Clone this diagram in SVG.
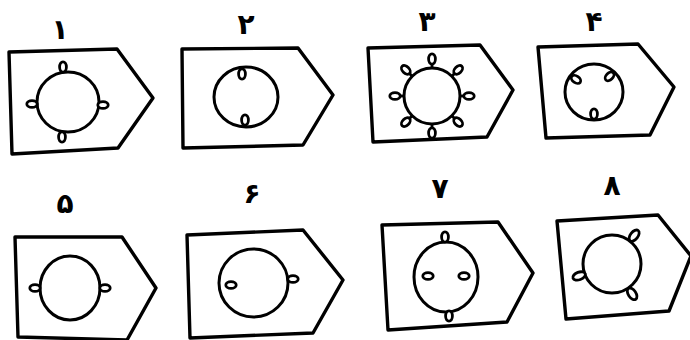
<svg xmlns="http://www.w3.org/2000/svg" xmlns:xlink="http://www.w3.org/1999/xlink" width="690" height="340" viewBox="0 0 690 340">
<style>
.sh{fill:none;stroke:#000;stroke-width:3.4;stroke-linejoin:round}
.ci{fill:none;stroke:#000;stroke-width:3}
.lp{fill:#fff;stroke:#000;stroke-width:2.8}
.st{stroke:#000;stroke-width:2.8}
.lb{font-family:"DejaVu Sans",sans-serif;font-weight:bold;font-size:28px;text-anchor:middle;fill:#000}
</style>
<defs>
<ellipse id="lp" cx="0" cy="0" rx="3.4" ry="5.2" class="lp"/>
<ellipse id="lpb" cx="0" cy="0" rx="3.8" ry="6.5" class="lp"/>
</defs>
<rect width="690" height="340" fill="#fff"/>

<g id="n1">
<polygon class="sh" points="9,52 117,49 153,98 118,148 12,154"/>
<ellipse class="ci" cx="68" cy="102" rx="31" ry="30"/>
<use xlink:href="#lp" transform="translate(63,67)"/>
<use xlink:href="#lp" transform="translate(32,104) rotate(90)"/>
<use xlink:href="#lp" transform="translate(103,105) rotate(90)"/>
<use xlink:href="#lp" transform="translate(62,137)"/>
<text class="lb" x="60" y="39">۱</text>
</g>

<g id="n2">
<polygon class="sh" points="182,49 298,48 333,95 303,145 183,148"/>
<ellipse class="ci" cx="246" cy="97" rx="32" ry="30"/>
<use xlink:href="#lp" transform="translate(242,74)"/>
<use xlink:href="#lp" transform="translate(245,120)"/>
<text class="lb" x="246" y="34">۲</text>
</g>

<g id="n3">
<polygon class="sh" points="368,48 480,45 513,90 487,137 373,142"/>
<circle class="ci" cx="432" cy="96" r="28"/>
<g transform="translate(432,96)">
<g transform="rotate(0)"><line class="st" x1="0" y1="-28" x2="0" y2="-33"/><use xlink:href="#lp" y="-37"/></g>
<g transform="rotate(45)"><line class="st" x1="0" y1="-28" x2="0" y2="-33"/><use xlink:href="#lp" y="-37"/></g>
<g transform="rotate(90)"><line class="st" x1="0" y1="-28" x2="0" y2="-33"/><use xlink:href="#lp" y="-37"/></g>
<g transform="rotate(135)"><line class="st" x1="0" y1="-28" x2="0" y2="-33"/><use xlink:href="#lp" y="-37"/></g>
<g transform="rotate(180)"><line class="st" x1="0" y1="-28" x2="0" y2="-33"/><use xlink:href="#lp" y="-37"/></g>
<g transform="rotate(225)"><line class="st" x1="0" y1="-28" x2="0" y2="-33"/><use xlink:href="#lp" y="-37"/></g>
<g transform="rotate(270)"><line class="st" x1="0" y1="-28" x2="0" y2="-33"/><use xlink:href="#lp" y="-37"/></g>
<g transform="rotate(315)"><line class="st" x1="0" y1="-28" x2="0" y2="-33"/><use xlink:href="#lp" y="-37"/></g>
</g>
<text class="lb" x="427" y="31">۳</text>
</g>

<g id="n4">
<polygon class="sh" points="538,47 638,44 674,87 650,135 546,138"/>
<ellipse class="ci" cx="594" cy="92" rx="29" ry="28"/>
<g transform="translate(594,92)">
<use xlink:href="#lp" transform="rotate(-55) translate(0,-22)"/>
<use xlink:href="#lp" transform="rotate(45) translate(0,-22)"/>
<use xlink:href="#lp" transform="rotate(180) translate(0,-22)"/>
</g>
<text class="lb" x="594" y="31">۴</text>
</g>

<g id="n5">
<polygon class="sh" points="15,237 122,237 156,288 127,340 18,337"/>
<ellipse class="ci" cx="70" cy="288" rx="30" ry="32"/>
<use xlink:href="#lp" transform="translate(35,288) rotate(90)"/>
<use xlink:href="#lp" transform="translate(105,288) rotate(90)"/>
<text class="lb" x="65" y="213">۵</text>
</g>

<g id="n6">
<polygon class="sh" points="187,235 303,230 343,280 313,333 190,338"/>
<ellipse class="ci" cx="253.5" cy="283" rx="34.5" ry="34"/>
<use xlink:href="#lp" transform="translate(231,285) rotate(90)"/>
<use xlink:href="#lp" transform="translate(293,279) rotate(90)"/>
<text class="lb" x="252" y="203">۶</text>
</g>

<g id="n7">
<polygon class="sh" points="382,225 498,222 533,273 507,322 388,330"/>
<ellipse class="ci" cx="446" cy="277" rx="32" ry="35"/>
<use xlink:href="#lp" transform="translate(445,237)"/>
<use xlink:href="#lp" transform="translate(449,316)"/>
<use xlink:href="#lp" transform="translate(428,276) rotate(90)"/>
<use xlink:href="#lp" transform="translate(464,276) rotate(90)"/>
<text class="lb" x="440" y="198">۷</text>
</g>

<g id="n8">
<polygon class="sh" points="557,221 658,215 691,256 669,311 566,319"/>
<circle class="ci" cx="612" cy="264" r="29"/>
<g transform="translate(612,264)">
<use xlink:href="#lpb" transform="rotate(38) translate(0,-36)"/>
<use xlink:href="#lpb" transform="rotate(146) translate(0,-36)"/>
<use xlink:href="#lpb" transform="rotate(250) translate(0,-35)"/>
</g>
<text class="lb" x="612" y="195">۸</text>
</g>

<g id="connectors"></g>
</svg>
